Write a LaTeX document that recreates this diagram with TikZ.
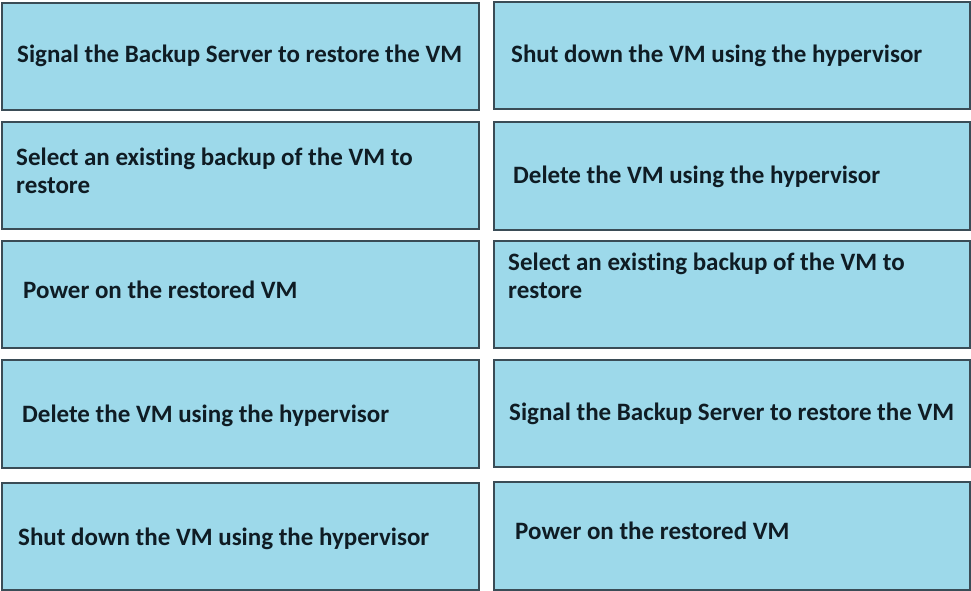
\documentclass[tikz,border=0pt]{standalone}
\usepackage{fontspec}
\setmainfont[Ligatures=CommonOff]{Carlito}
\definecolor{boxfill}{HTML}{9DD9EA}
\definecolor{boxline}{HTML}{3A4C56}
\definecolor{txt}{HTML}{0F1C24}
\begin{document}
\begin{tikzpicture}[x=1pt,y=-1pt,
  cell/.style={draw=boxline,fill=boxfill,line width=1.6pt,inner sep=0pt,minimum width=476pt,minimum height=107pt,anchor=north west},
  lbl/.style={anchor=base west,inner sep=0pt,text=txt,font=\fontsize{25}{28}\selectfont\bfseries,align=left}]
\useasboundingbox (0,0) rectangle (971,591);
% left column
\node[cell,minimum width=477pt] (l1) at (1,2) {};
\node[cell,minimum width=477pt] (l2) at (1,121) {};
\node[cell,minimum width=477pt] (l3) at (1,240) {};
\node[cell,minimum width=477pt,minimum height=108pt] (l4) at (1,359) {};
\node[cell,minimum width=477pt] (l5) at (1,482) {};
% right column
\node[cell] (r1) at (493,1) {};
\node[cell,minimum height=108pt] (r2) at (493,121) {};
\node[cell] (r3) at (493,240) {};
\node[cell] (r4) at (493,359) {};
\node[cell,minimum height=108pt] (r5) at (493,481) {};
% texts
\node[lbl] (tl1) at (17,63) {Signal the Backup Server to restore the VM};
\node[lbl] (tl2) at (16,193) {Select an existing backup of the VM to\\restore};
\node[lbl] (tl3) at (23,298) {Power on the restored VM};
\node[lbl] (tl4) at (22,422) {Delete the VM using the hypervisor};
\node[lbl] (tl5) at (18,545) {Shut down the VM using the hypervisor};
\node[lbl] (tr1) at (511,63) {Shut down the VM using the hypervisor};
\node[lbl] (tr2) at (513,183) {Delete the VM using the hypervisor};
\node[lbl] (tr3) at (508,298) {Select an existing backup of the VM to\\restore};
\node[lbl] (tr4) at (509,420) {Signal the Backup Server to restore the VM};
\node[lbl] (tr5) at (515,539) {Power on the restored VM};
\end{tikzpicture}
\end{document}
